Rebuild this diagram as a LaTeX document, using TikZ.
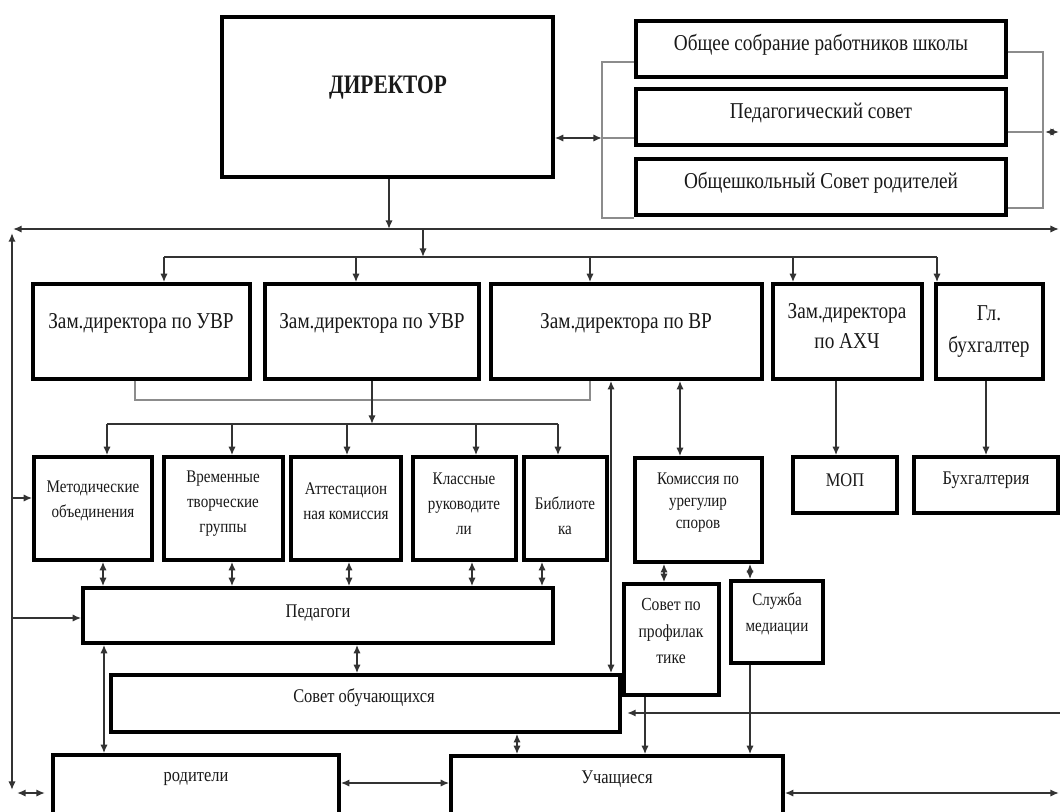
\documentclass[tikz,border=0pt]{standalone}
\usepackage{fontspec}
\setmainfont{Liberation Serif}
\newfontfamily\cond[FakeStretch=0.85]{Liberation Serif}
\newfontfamily\condbf[FakeStretch=0.8]{Liberation Serif}
\usetikzlibrary{arrows.meta}

% box given by its corners in pixel units: name, x1, y1, x2, y2
\newcommand\boxat[5]{%
  \node[box, minimum width={(#4-#2)*0.75pt}, minimum height={(#5-#3)*0.75pt}]
    (#1) at ({(#2+#4)/2},{(#3+#5)/2}) {};}

\begin{document}
\begin{tikzpicture}[x=0.75pt, y=-0.75pt,
  >={Latex[length=6.5pt,width=5.5pt]},
  box/.style={draw=black, line width=2.6pt, inner sep=0pt, fill=white},
  conn/.style={draw=black!80, line width=1.5pt},
  grey/.style={draw=black!45, line width=1.5pt},
  lbl/.style={align=center, inner sep=0pt, text=black!90},
  big/.style={font=\cond\fontsize{17pt}{22pt}\selectfont},
  mid/.style={font=\cond\fontsize{14.5pt}{18pt}\selectfont},
  small/.style={font=\cond\fontsize{13.3pt}{18.75pt}\selectfont}]

\clip (0,0) rectangle (1060,811);
\fill[white] (0,0) rectangle (1060,811);

% ---------- boxes ----------
\boxat{dir}{222}{17}{553}{177}
\boxat{os}{636}{21}{1006}{77}
\boxat{ps}{636}{89}{1006}{145}
\boxat{sr}{636}{159}{1006}{215}

\boxat{z1}{33}{284}{250}{379}
\boxat{z2}{265}{284}{479}{379}
\boxat{z3}{491}{284}{762}{379}
\boxat{z4}{773}{284}{922}{379}
\boxat{z5}{936}{284}{1043}{379}

\boxat{met}{34}{457}{152}{560}
\boxat{vr}{164}{457}{283}{560}
\boxat{att}{291}{457}{401}{560}
\boxat{kl}{413}{457}{516}{560}
\boxat{bib}{524}{457}{607}{560}
\boxat{kom}{635}{458}{762}{562}
\boxat{mop}{793}{457}{897}{513}
\boxat{buh}{914}{457}{1058}{513}

\boxat{ped}{83}{588}{553}{643}
\boxat{so}{111}{675}{620}{732}
\boxat{sp}{624}{584}{719}{695}
\boxat{sm}{731}{581}{823}{663}
\boxat{rod}{53}{755}{339}{840}
\boxat{uch}{451}{756}{783}{840}

% ---------- texts ----------
\node[lbl, font=\condbf\bfseries\fontsize{20pt}{24pt}\selectfont] (dir-t) at (388,88) {ДИРЕКТОР};
\node[lbl, big] (os-t) at (821,45) {Общее собрание работников школы};
\node[lbl, big] (ps-t) at (821,113) {Педагогический совет};
\node[lbl, big] (sr-t) at (821,183) {Общешкольный Совет родителей};

\node[lbl, big] (z1-t) at (141,323) {Зам.директора по УВР};
\node[lbl, big] (z2-t) at (372,323) {Зам.директора по УВР};
\node[lbl, big] (z3-t) at (626,323) {Зам.директора по ВР};
\node[lbl, big, font=\cond\fontsize{17pt}{22.5pt}\selectfont] (z4-t) at (847,326) {Зам.директора\\по АХЧ};
\node[lbl, big, font=\cond\fontsize{17pt}{24pt}\selectfont] (z5-t) at (989,332) {Гл.\\бухгалтер};

\node[lbl, small] (met-t) at (93,501) {Методические\\объединения};
\node[lbl, small] (vr-t) at (223,504) {Временные\\творческие\\группы};
\node[lbl, small] (att-t) at (346,501) {Аттестацион\\ная комиссия};
\node[lbl, small] (kl-t) at (464,504) {Классные\\руководите\\ли};
\node[lbl, small] (bib-t) at (565,516) {Библиоте\\ка};
\node[lbl, small, font=\cond\fontsize{13.3pt}{16.5pt}\selectfont] (kom-t) at (698,503) {Комиссия по\\урегулир\\споров};
\node[lbl, mid] (mop-t) at (845,480) {МОП};
\node[lbl, mid] (buh-t) at (986,480) {Бухгалтерия};

\node[lbl, mid] (ped-t) at (318,613) {Педагоги};
\node[lbl, mid] (so-t) at (364,698) {Совет обучающихся};
\node[lbl, small, font=\cond\fontsize{13.8pt}{20pt}\selectfont] (sp-t) at (671,631) {Совет по\\профилак\\тике};
\node[lbl, small, font=\cond\fontsize{13.3pt}{20pt}\selectfont] (sm-t) at (777,614) {Служба\\медиации};
\node[lbl, mid] (rod-t) at (196,779) {родители};
\node[lbl, mid] (uch-t) at (617,779) {Учащиеся};

% ---------- bus coordinates ----------
\coordinate (brL) at (602,138);
\coordinate (brR) at (1043,132);
\coordinate (offR) at (1059,132);
\coordinate (mL) at (13,229);
\coordinate (mR) at (1059,229);
\coordinate (vT) at (12,233);
\coordinate (vB) at (12,790);
\coordinate (b2) at (423,257);
\coordinate (b3) at (372,424);

% ---------- top: director and councils ----------
\draw[conn,<->] (dir.east |- brL) -- (brL);
\draw[grey] (os.west |- 0,62) -| (brL) |- (sr.west |- 0,218);
\draw[grey] (brL) -- (ps.west |- brL);
\draw[grey] (os.east |- 0,52) -| (brR) |- (sr.east |- 0,208);
\draw[grey] (ps.east |- brR) -- (brR);
\draw[conn,<->] (1045,132) -- (offR);

% ---------- main bus ----------
\draw[conn,->] (dir.south -| 389,0) -- (389,0 |- mL);
\draw[conn,<->] (mL) -- (mR);
\draw[conn,<->] (vT) -- (vB);
\draw[conn,<->] (17,793) -- (45,793);
\draw[conn,->] (12,498) -- (met.west |- 0,498);
\draw[conn,->] (12,618) -- (ped.west |- 0,618);

% ---------- deputies ----------
\draw[conn,->] (b2 |- mL) -- (b2);
\draw[conn] (164,257) -- (937,257);
\draw[conn,->] (164,257) -- (164,0 |- z1.north);
\draw[conn,->] (356,257) -- (356,0 |- z2.north);
\draw[conn,->] (590,257) -- (590,0 |- z3.north);
\draw[conn,->] (793,257) -- (793,0 |- z4.north);
\draw[conn,->] (937,257) -- (937,0 |- z5.north);

% ---------- methodical units ----------
\draw[grey] (135,0 |- z1.south) |- (590,400) -- (590,0 |- z3.south);
\draw[conn,->] (z2.south) -- (b3);
\draw[conn] (107,424) -- (558,424);
\draw[conn,->] (107,424) -- (107,0 |- met.north);
\draw[conn,->] (232,424) -- (232,0 |- vr.north);
\draw[conn,->] (347,424) -- (347,0 |- att.north);
\draw[conn,->] (476,424) -- (476,0 |- kl.north);
\draw[conn,->] (558,424) -- (558,0 |- bib.north);

\draw[conn,<->] (103,0 |- met.south) -- (103,0 |- ped.north);
\draw[conn,<->] (232,0 |- vr.south) -- (232,0 |- ped.north);
\draw[conn,<->] (349,0 |- att.south) -- (349,0 |- ped.north);
\draw[conn,<->] (472,0 |- kl.south) -- (472,0 |- ped.north);
\draw[conn,<->] (542,0 |- bib.south) -- (542,0 |- ped.north);

% ---------- right branch ----------
\draw[conn,<->] (611,0 |- z3.south) -- (611,0 |- so.north);
\draw[conn,<->] (680,0 |- z3.south) -- (680,0 |- kom.north);
\draw[conn,->] (836,0 |- z4.south) -- (836,0 |- mop.north);
\draw[conn,->] (986,0 |- z5.south) -- (986,0 |- buh.north);
\draw[conn,<->] (664,0 |- kom.south) -- (664,0 |- sp.north);
\draw[conn,<->] (750,0 |- kom.south) -- (750,0 |- sm.north);
\draw[conn,->] (645,0 |- sp.south) -- (645,0 |- uch.north);
\draw[conn,->] (750,0 |- sm.south) -- (750,0 |- uch.north);
\draw[conn,->] (1060,713) -- ([xshift=4pt]so.east |- 0,713);
\draw[conn,<->] (uch.east |- 0,793) -- (1059,793);

% ---------- bottom ----------
\draw[conn,<->] (357,0 |- ped.south) -- (357,0 |- so.north);
\draw[conn,<->] (104,0 |- ped.south) -- (104,0 |- rod.north);
\draw[conn,<->] (517,0 |- so.south) -- (517,0 |- uch.north);
\draw[conn,<->] (rod.east |- 0,783) -- (uch.west |- 0,783);
\end{tikzpicture}
\end{document}
